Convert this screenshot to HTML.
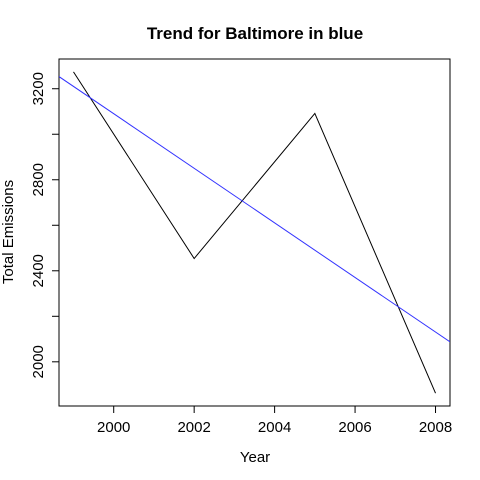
<!DOCTYPE html>
<html><head><meta charset="utf-8"><style>
html,body{margin:0;padding:0;background:#fff;}
svg{display:block;font-family:"Liberation Sans",Arial,sans-serif;}
</style></head><body>
<svg id="chart" width="480" height="480">
<text x="255" y="39" text-anchor="middle" font-size="17" font-weight="bold">Trend for Baltimore in blue</text>
<text x="255" y="462" text-anchor="middle" font-size="15">Year</text>
<text transform="translate(13,232) rotate(-90)" text-anchor="middle" font-size="15">Total Emissions</text>
<rect x="59" y="59" width="391" height="347" fill="none" stroke="#000" stroke-width="1"/>
<g id="axes"></g>
<g id="marks"></g>
</svg>
<script>
const years = [1999, 2002, 2005, 2008];
const emissions = [3274.18, 2453.92, 3091.35, 1862.28];
const xTicks = [2000, 2002, 2004, 2006, 2008];
const yTicks = [2000, 2200, 2400, 2600, 2800, 3000, 3200];
const yTickLabels = ["2000", "", "2400", "", "2800", "", "3200"];

const L=59,R=450,T=59,B=406;
const xmin=Math.min(...years),xmax=Math.max(...years);
const ymin=Math.min(...emissions),ymax=Math.max(...emissions);
const xlo=xmin-0.04*(xmax-xmin),xhi=xmax+0.04*(xmax-xmin);
const ylo=ymin-0.04*(ymax-ymin),yhi=ymax+0.04*(ymax-ymin);
const sx=v=>L+(v-xlo)/(xhi-xlo)*(R-L);
const sy=v=>B-(v-ylo)/(yhi-ylo)*(B-T);
const NS="http://www.w3.org/2000/svg";
const axes=document.getElementById('axes'),marks=document.getElementById('marks');
function mk(tag,attrs,parent){const e=document.createElementNS(NS,tag);for(const k in attrs)e.setAttribute(k,attrs[k]);parent.appendChild(e);return e;}
xTicks.forEach(t=>{
  const l=mk('line',{x1:sx(t),x2:sx(t),y1:B,y2:B+7,stroke:'#000'},axes);
  
  
  const tx=mk('text',{x:sx(t),y:B+26,'text-anchor':'middle','font-size':'15'},axes);
  tx.textContent=t;
  
  
});
yTicks.forEach((t,i)=>{
  const l=mk('line',{x1:L-7,x2:L,y1:sy(t),y2:sy(t),stroke:'#000'},axes);
  
  
  if(yTickLabels[i]){
    const tx=mk('text',{transform:`translate(${L-16},${sy(t)}) rotate(-90)`,'text-anchor':'middle','font-size':'15'},axes);
    tx.textContent=yTickLabels[i];
    
    
  }
});
const pl=mk('polyline',{points:years.map((y,i)=>sx(y)+','+sy(emissions[i])).join(' '),fill:'none',stroke:'#000','stroke-width':'1'},marks);


const n=years.length,mx=years.reduce((a,b)=>a+b)/n,my=emissions.reduce((a,b)=>a+b)/n;
let sxy=0,sxx=0;years.forEach((x,i)=>{sxy+=(x-mx)*(emissions[i]-my);sxx+=(x-mx)*(x-mx);});
const slope=sxy/sxx,icp=my-slope*mx;
const cp=mk('clipPath',{id:'clip'},marks);mk('rect',{x:L,y:T,width:R-L,height:B-T},cp);
const rl=mk('line',{x1:sx(xlo),y1:sy(icp+slope*xlo),x2:sx(xhi),y2:sy(icp+slope*xhi),stroke:'#3333ff','stroke-width':'1','clip-path':'url(#clip)'},marks);


</script>
</body></html>
